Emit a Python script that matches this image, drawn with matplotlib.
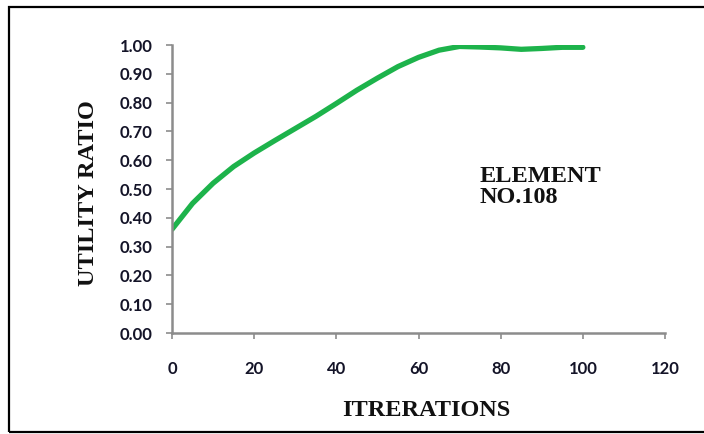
import matplotlib
matplotlib.use("Agg")
import matplotlib.pyplot as plt
from matplotlib.patches import Rectangle
from matplotlib.ticker import FormatStrFormatter

# Utility ratio of element 108 over the optimisation iterations
iterations = [0, 5, 10, 15, 20, 25, 30, 35, 40, 45, 50, 55, 60, 65, 70, 75, 80, 85, 90, 95, 100]
utility = [0.36, 0.45, 0.52, 0.578, 0.625, 0.668, 0.71, 0.752, 0.797, 0.843, 0.885,
           0.925, 0.957, 0.982, 0.995, 0.993, 0.99, 0.985, 0.988, 0.992, 0.992]
x_ticks = [0, 20, 40, 60, 80, 100, 120]
y_ticks = [0.0, 0.1, 0.2, 0.3, 0.4, 0.5, 0.6, 0.7, 0.8, 0.9, 1.0]

W, H = 704, 434
fig = plt.figure(figsize=(W / 100, H / 100), dpi=100)

# outer chart frame
fig.patches.append(Rectangle((9 / W, 2 / H), 1.2, (H - 9) / H, transform=fig.transFigure,
                             fill=False, edgecolor="black", linewidth=1.6, zorder=0))

ax = fig.add_axes([172 / W, 1 - 333 / H, (665 - 172) / W, (333 - 45) / H])
ax.plot(iterations, utility, color="#1db34b", linewidth=3.8, solid_capstyle="round")

ax.set_xlim(0, 120)
ax.set_ylim(0, 1.0)
ax.set_xticks(x_ticks)
ax.set_yticks(y_ticks)
ax.yaxis.set_major_formatter(FormatStrFormatter("%.2f"))

for side in ("top", "right"):
    ax.spines[side].set_visible(False)
for side in ("left", "bottom"):
    ax.spines[side].set_color("#8c8c8c")
    ax.spines[side].set_linewidth(1.8)
ax.tick_params(axis="both", direction="out", length=4, width=1.2, color="#8c8c8c",
               labelsize=12, labelcolor="#141428")
ax.tick_params(axis="x", pad=16)
ax.tick_params(axis="y", pad=10)
for lab in ax.get_xticklabels() + ax.get_yticklabels():
    lab.set_fontweight("bold")
    lab.set_fontfamily("Lato")

serif = dict(family="Liberation Serif", weight="bold", color="#111111")
fig.text(426 / W, 1 - 410 / H, "ITRERATIONS", ha="center", va="center", fontsize=17.5, **serif)
fig.text(88 / W, 1 - 193 / H, "UTILITY RATIO", ha="center", va="center", rotation=90,
         fontsize=17.5, **serif)
fig.text(480 / W, 1 - 187 / H, "ELEMENT\nNO.108", ha="left", va="center", fontsize=17.5,
         linespacing=1.05, **serif)

fig.savefig("out.png", dpi=100)
